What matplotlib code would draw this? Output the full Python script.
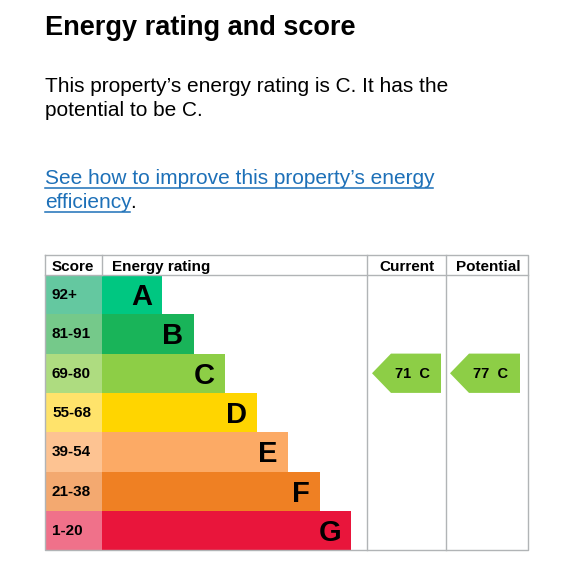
import matplotlib as mpl
import matplotlib.pyplot as plt
from matplotlib.patches import Polygon

mpl.use("Agg")
plt.rcParams["font.family"] = ["Liberation Sans", "DejaVu Sans"]

# band data
bands = ["A", "B", "C", "D", "E", "F", "G"]
score_ranges = ["92+", "81-91", "69-80", "55-68", "39-54", "21-38", "1-20"]
band_colors = ["#00c781", "#19b459", "#8dce46", "#ffd500", "#fcaa65", "#ef8023", "#e9153b"]
score_colors = ["#64c8a0", "#75c98a", "#aedc80", "#ffe36b", "#fdc392", "#f3a970", "#f0718a"]
current_score, current_band = 71, "C"
potential_score, potential_band = 77, "C"

W, H = 566, 570
fig = plt.figure(figsize=(W / 100, H / 100), dpi=100)
ax = fig.add_axes([0, 0, 1, 1])
ax.set_xlim(0, W)
ax.set_ylim(H, 0)
ax.axis("off")

# text block
ax.text(45, 35, "Energy rating and score", fontsize=19.5, fontweight="bold",
        va="baseline", ha="left")
ax.text(45, 92, "This property\u2019s energy rating is C. It has the", fontsize=15,
        va="baseline")
ax.text(45, 116, "potential to be C.", fontsize=15, va="baseline")

link_col = "#1d70b8"
t1 = ax.text(45, 184, "See how to improve this property\u2019s energy", fontsize=15,
             va="baseline", color=link_col)
t2 = ax.text(45, 208, "efficiency", fontsize=15, va="baseline", color=link_col)
fig.canvas.draw()
r = fig.canvas.get_renderer()
inv = ax.transData.inverted()
for t, yu in [(t1, 187.5), (t2, 211.5)]:
    bb = t.get_window_extent(r)
    (x0, _), (x1, _) = inv.transform([(bb.x0, 0), (bb.x1, 0)])
    ax.plot([x0, x1 - 2], [yu, yu], color=link_col, lw=1.1)
    if t is t2:
        ax.text(x1 - 1, 208, ".", fontsize=15, va="baseline", color="black")

# table geometry
left, right = 45, 528
top, head_bot = 255, 275
row_h = 39.3
col_rating, col_cur, col_pot = 102, 367, 446
bottom = head_bot + row_h * len(bands)
grid = "#b1b4b6"

hy = 271
ax.text(52, hy, "Score", fontsize=11, fontweight="bold", va="baseline")
ax.text(112, hy, "Energy rating", fontsize=11, fontweight="bold", va="baseline")
ax.text((col_cur + col_pot) / 2, hy, "Current", fontsize=11, fontweight="bold",
        va="baseline", ha="center")
ax.text((col_pot + right) / 2 + 1, hy, "Potential", fontsize=11, fontweight="bold",
        va="baseline", ha="center")

ys = [head_bot + row_h * (i + 0.5) for i in range(len(bands))]
widths = [60 + 31.5 * i for i in range(len(bands))]
ax.barh(ys, [col_rating - left] * len(bands), left=left, height=row_h,
        color=score_colors, edgecolor="none")
ax.barh(ys, widths, left=col_rating, height=row_h, color=band_colors,
        edgecolor="none")
for y, s, b, w in zip(ys, score_ranges, bands, widths):
    ax.text(52, y + 4.5, s, fontsize=11, fontweight="bold", va="baseline")
    ax.text(col_rating + w - 10, y + 10.5, b, fontsize=21, fontweight="bold",
            va="baseline", ha="right")

# grid lines
lw = 1
ax.plot([left, right, right, left, left], [top, top, bottom, bottom, top],
        color=grid, lw=lw)
ax.plot([left, right], [head_bot, head_bot], color=grid, lw=lw)
for x in [col_rating, col_cur, col_pot]:
    ax.plot([x, x], [top, head_bot if x == col_rating else bottom], color=grid, lw=lw)


def arrow(x0, x1, band, score):
    i = bands.index(band)
    y = ys[i]
    hh = row_h / 2
    pts = [(x0, y), (x0 + 19, y - hh), (x1, y - hh), (x1, y + hh), (x0 + 19, y + hh)]
    ax.add_patch(Polygon(pts, closed=True, color=band_colors[i], lw=0))
    ax.text((x0 + x1) / 2 + 6, y + 5, "%d  %s" % (score, band), fontsize=10.5,
            fontweight="bold", va="baseline", ha="center")


arrow(col_cur + 5, col_pot - 5, current_band, current_score)
arrow(col_pot + 4, right - 8, potential_band, potential_score)

fig.savefig("out.png", dpi=100)
